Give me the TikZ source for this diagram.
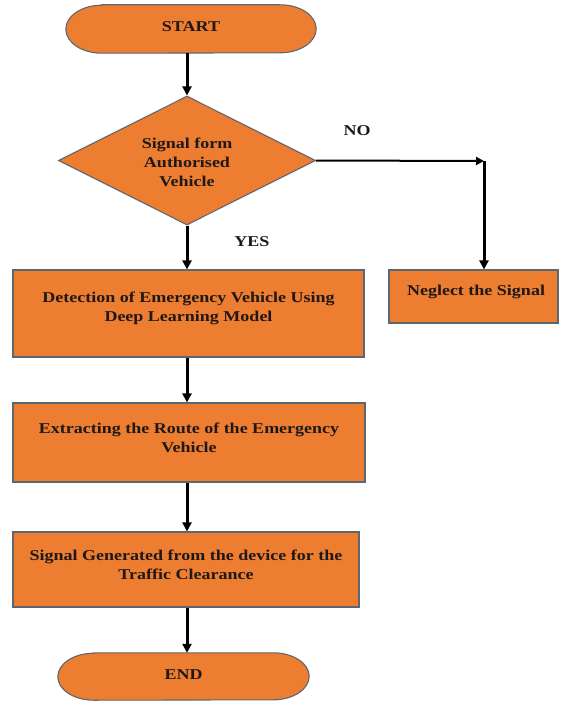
\documentclass[tikz,border=0pt]{standalone}
\usepackage{fontspec}
\setmainfont{Liberation Serif}[FakeStretch=1.2]
\usetikzlibrary{shapes.geometric,arrows.meta}
\definecolor{orfill}{HTML}{ED7D31}
\definecolor{orline}{HTML}{5E6670}
\definecolor{txtcol}{HTML}{1E1816}
\tikzset{
  x=1pt,y=-1pt,
  box/.style={draw=orline,line width=1.1pt,fill=orfill,rectangle,inner sep=0pt},
  ghost/.style={draw=none,fill=none,rectangle,inner sep=0pt},
  txt/.style={font=\fontsize{15}{19}\selectfont\bfseries,text=txtcol,align=center,inner sep=0pt},
  dec/.style={draw=orline,line width=1.1pt,fill=orfill,diamond,inner sep=0pt,minimum width=257pt,minimum height=129pt},
  flow/.style={line width=3pt,-{Triangle[length=9pt,width=9pt]}},
  thinflow/.style={line width=2pt,-{Triangle[length=8pt,width=8pt]}}
}
\newcommand{\stadium}[1]{%
  \draw[draw=orline,line width=1.1pt,fill=orfill]
    ([xshift=36pt]#1.north west) -- ([xshift=-36pt]#1.north east)
    arc[start angle=90,end angle=-90,x radius=36pt,y radius=0.5*\stadh]
    -- ([xshift=36pt]#1.south west)
    arc[start angle=270,end angle=90,x radius=36pt,y radius=0.5*\stadh] -- cycle;}
\begin{document}
\begin{tikzpicture}
\useasboundingbox (0,0) rectangle (560,701);
% START
\node[ghost,minimum width=250pt,minimum height=48pt] (start) at (191,29) {};
\def\stadh{48pt}\stadium{start}
\node[txt] (startt) at (191,27) {START};
% decision
\node[dec] (dia) at (187,160.5) {};
\node[txt] (diat) at (187,162) {Signal form\\Authorised\\Vehicle};
% boxes
\node[box,minimum width=351pt,minimum height=87pt] (b1) at (188.5,313.5) {};
\node[txt] (b1t) at (188.5,308) {Detection of Emergency Vehicle Using\\Deep Learning Model};
\node[box,minimum width=352pt,minimum height=79pt] (b2) at (189,442.5) {};
\node[txt] (b2t) at (189,437.5) {Extracting the Route of the Emergency\\Vehicle};
\node[box,minimum width=346pt,minimum height=75pt] (b3) at (186,569.5) {};
\node[txt] (b3t) at (186,565) {Signal Generated from the device for the\\Traffic Clearance};
\node[box,minimum width=169pt,minimum height=53pt] (neg) at (473.5,296.5) {};
\node[txt] (negt) at (476,292) {Neglect the Signal};
% END
\node[ghost,minimum width=251pt,minimum height=47pt] (end) at (183.5,676.5) {};
\def\stadh{47pt}\stadium{end}
\node[txt] (endt) at (183.5,675) {END};
% labels
\node[txt] (no) at (357,131) {NO};
\node[txt] (yes) at (252,242) {YES};
% connectors
\coordinate (corner) at (484,161);
\draw[flow] (dia.north |- start.south) -- (dia.north);
\draw[thinflow] (dia.east) -- (corner);
\draw[flow] (corner) -- (corner |- neg.north);
\draw[flow] (dia.south) -- (dia.south |- b1.north);
\draw[flow] (dia.south |- b1.south) -- (dia.south |- b2.north);
\draw[flow] (dia.south |- b2.south) -- (dia.south |- b3.north);
\draw[flow] (dia.south |- b3.south) -- (dia.south |- end.north);
\end{tikzpicture}
\end{document}
